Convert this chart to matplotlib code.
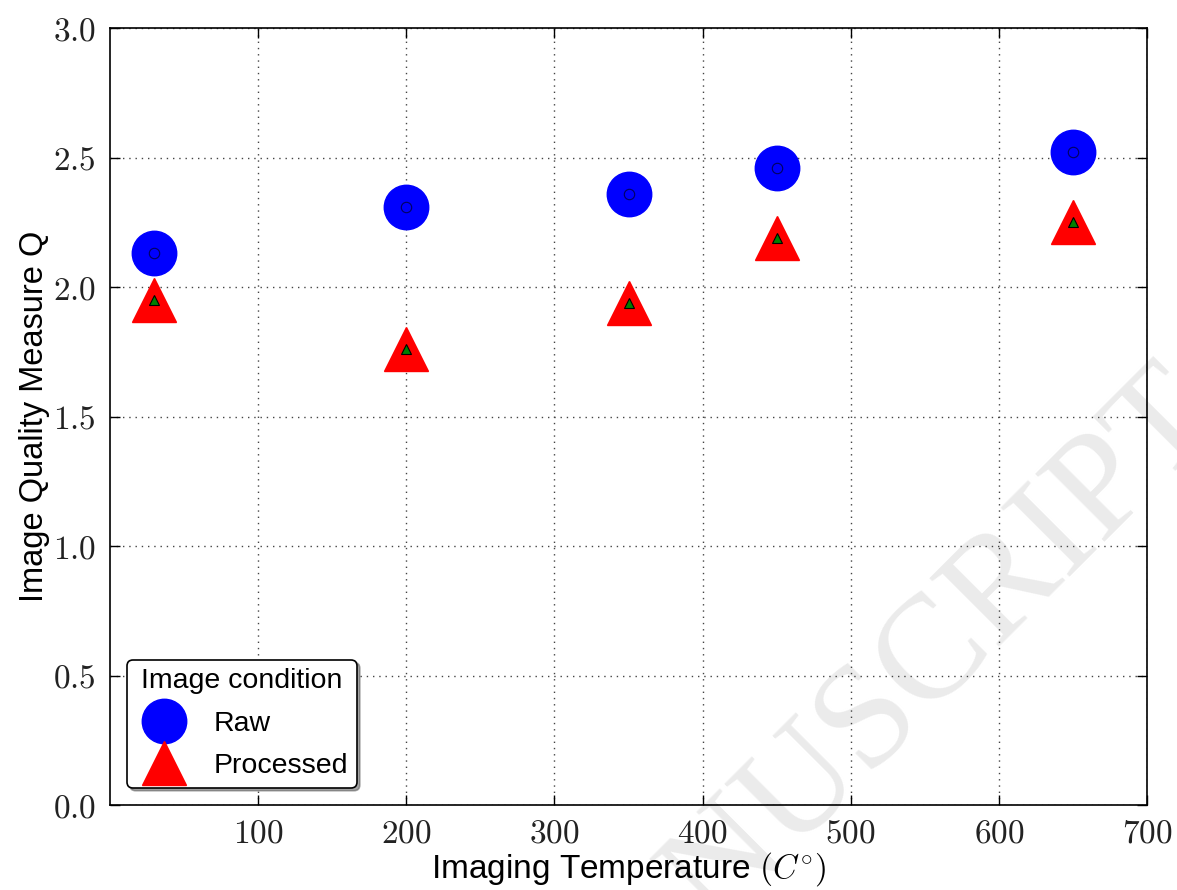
import matplotlib
matplotlib.use("Agg")
import matplotlib.pyplot as plt
from matplotlib.ticker import FuncFormatter

# Daten
temperatures = [30, 200, 350, 450, 650]
q_raw = [2.13, 2.31, 2.36, 2.46, 2.52]
q_processed = [1.95, 1.76, 1.94, 2.19, 2.25]
x_ticks = [100, 200, 300, 400, 500, 600, 700]
y_ticks = [0.0, 0.5, 1.0, 1.5, 2.0, 2.5, 3.0]

plt.rcParams['font.family'] = ['Liberation Sans', 'DejaVu Sans']
plt.rcParams['mathtext.fontset'] = 'cm'

fig = plt.figure(figsize=(11.77, 8.9), dpi=100)
ax = fig.add_axes([0.0935, 0.0955, 0.881, 0.873])
ax.patch.set_alpha(0)

# Wasserzeichen
fig.text(1.04, 0.525, "ACCEPTED MANUSCRIPT", rotation=45, rotation_mode='anchor',
         ha='right', va='baseline', fontsize=107, color='#ebebeb',
         family='Liberation Serif', zorder=-10)

# grosse Marker
ax.plot(temperatures, q_raw, 'o', color='blue', mec='blue', ms=32, label='Raw', zorder=3)
ax.plot(temperatures, q_processed, '^', color='red', mec='red', ms=32, label='Processed', zorder=3)
# kleine Marker in der Mitte
ax.plot(temperatures, q_raw, 'o', color='blue', mec='#000060', mew=0.8, ms=7.5, zorder=4)
ax.plot(temperatures, q_processed, '^', color='green', mec='black', mew=0.8, ms=7.5, zorder=4)

ax.set_xlim(0, 700)
ax.set_ylim(0, 3.0)
ax.set_xticks(x_ticks)
ax.set_yticks(y_ticks)
ax.xaxis.set_major_formatter(FuncFormatter(lambda v, p: f'${v:.0f}$'))
ax.yaxis.set_major_formatter(FuncFormatter(lambda v, p: f'${v:.1f}$'))
ax.tick_params(direction='in', top=True, right=True, length=7, width=1,
               labelsize=24, pad=10, labelcolor='#222222')
ax.grid(True, color='#444444', linestyle=(0, (1, 3.5)), linewidth=1)
for s in ax.spines.values():
    s.set_linewidth(1.2)

ax.set_xlabel(r"Imaging Temperature $(C^{\circ})$", fontsize=24, labelpad=0)
ax.set_ylabel("Image Quality Measure Q", fontsize=23.5, labelpad=2)

leg = ax.legend(loc='lower left', title='Image condition', fontsize=20.5,
                title_fontsize=20.5, numpoints=1, fancybox=True, shadow=True,
                framealpha=1, edgecolor='black', labelspacing=0.58,
                handletextpad=0.75, borderpad=0.3, borderaxespad=0.6)
leg.get_frame().set_linewidth(1.2)

fig.savefig("out.png", dpi=100)
